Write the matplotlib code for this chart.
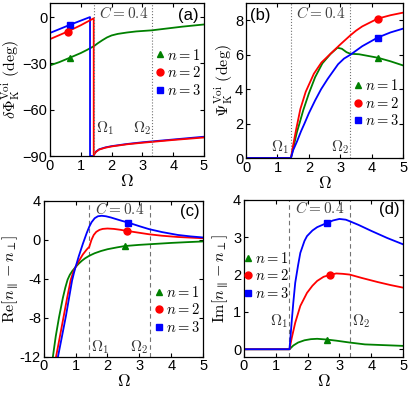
import matplotlib
matplotlib.use('Agg')
import matplotlib.pyplot as plt
from matplotlib.lines import Line2D
import matplotlib.transforms as mtransforms

plt.rcParams['font.family'] = ['Liberation Sans', 'DejaVu Sans']
plt.rcParams['mathtext.fontset'] = 'cm'
plt.rcParams['font.size'] = 10
plt.rcParams['axes.linewidth'] = 0.9
plt.rcParams['xtick.direction'] = 'in'
plt.rcParams['ytick.direction'] = 'in'
plt.rcParams['xtick.top'] = True
plt.rcParams['ytick.right'] = True
plt.rcParams['xtick.major.size'] = 3
plt.rcParams['ytick.major.size'] = 3

# ---------------- data ----------------
OMEGA1 = 1.43
OMEGA2 = 3.32
C_LABEL = r'$C=0.4$'
series_labels = [r'$n=1$', r'$n=2$', r'$n=3$']
colors = ['#008000', '#ff0000', '#0000ff']
markers = ['^', 'o', 's']

# (a) delta Phi_K^Voi (deg)
a_w_n1 = [0, 0.3, 0.65, 1.0, 1.2, 1.43, 1.55, 1.7, 1.85, 2.0, 2.2, 2.5, 2.8, 3.3, 3.8, 4.3, 5.0]
a_v_n1 = [-31.3, -29.2, -26.3, -23.3, -21.3, -18.8, -17.0, -15.0, -13.2, -11.9, -10.9, -10.0, -9.3, -8.6, -7.4, -6.2, -4.8]
a_w_n2 = [0, 0.57, 1.0, 1.42, 1.42, 1.45, 1.5, 1.6, 1.8, 2.0, 2.5, 3.0, 3.5, 4.0, 4.5, 5.0]
a_v_n2 = [-14.3, -9.4, -5.3, -0.8, -89.5, -88.4, -87.2, -85.8, -84.6, -83.8, -82.4, -81.4, -80.5, -79.6, -78.8, -78.0]
a_w_n3 = [0, 0.65, 1.30, 1.30, 1.42, 1.45, 1.5, 1.6, 1.8, 2.0, 2.5, 3.0, 3.5, 4.0, 4.5, 5.0]
a_v_n3 = [-10.3, -5.0, 0.0, -90.0, -90.0, -88.2, -87.0, -85.6, -84.4, -83.6, -82.2, -81.1, -80.2, -79.3, -78.4, -77.5]
a_mark_w = [0.65, 0.57, 0.65]
a_mark_v = [-26.3, -9.4, -5.0]

# (b) Psi_K^Voi (deg)
b_w_n1 = [0, 1.43, 1.5, 1.55, 1.62, 1.7, 1.82, 2.0, 2.2, 2.43, 2.69, 2.91, 3.05, 3.2, 3.32, 3.6, 4.19, 4.6, 5.0]
b_v_n1 = [0, 0, 0.55, 0.95, 1.5, 2.0, 2.77, 3.75, 4.7, 5.5, 6.05, 6.41, 6.35, 6.15, 6.06, 6.03, 5.83, 5.62, 5.38]
b_w_n2 = [0, 1.43, 1.5, 1.6, 1.73, 1.9, 2.16, 2.4, 2.69, 3.0, 3.32, 3.5, 3.7, 4.19, 4.6, 5.0]
b_v_n2 = [0, 0, 0.75, 1.7, 2.85, 3.85, 4.9, 5.55, 6.06, 6.6, 7.13, 7.4, 7.65, 8.1, 8.3, 8.45]
b_w_n3 = [0, 1.43, 1.5, 1.62, 1.75, 1.86, 2.0, 2.2, 2.39, 2.6, 2.93, 3.12, 3.32, 3.7, 4.19, 4.6, 5.0]
b_v_n3 = [0, 0, 0.45, 0.95, 1.55, 2.0, 2.6, 3.35, 4.0, 4.6, 5.45, 5.78, 6.0, 6.5, 7.0, 7.3, 7.52]
b_mark_w = [4.19, 4.19, 4.19]
b_mark_v = [5.83, 8.1, 7.0]

# (c) Re[n_par - n_perp]
c_w_n1 = [0.22, 0.29, 0.38, 0.48, 0.6, 0.68, 0.75, 0.82, 0.9, 1.0, 1.1, 1.2, 1.3, 1.43, 1.6, 1.8, 2.0, 2.3, 2.55, 3.0, 3.35, 4.0, 4.5, 5.0]
c_v_n1 = [-15.5, -12, -9.9, -8, -6, -4.9, -4.1, -3.6, -3.2, -2.8, -2.45, -2.15, -1.9, -1.64, -1.38, -1.15, -0.97, -0.78, -0.64, -0.52, -0.45, -0.32, -0.24, -0.17]
c_w_n2 = [0.32, 0.39, 0.5, 0.62, 0.74, 0.85, 0.93, 1.0, 1.1, 1.23, 1.35, 1.43, 1.5, 1.57, 1.65, 1.75, 1.85, 2.0, 2.2, 2.4, 2.6, 3.0, 3.3, 3.7, 4.2, 5.0]
c_v_n2 = [-15, -12, -10.1, -8, -5.9, -4.1, -3.3, -2.8, -2.2, -1.5, -1.0, -0.72, 0.0, 0.5, 0.82, 1.02, 1.12, 1.16, 1.12, 1.03, 0.92, 0.72, 0.57, 0.42, 0.29, 0.16]
c_w_n3 = [0.38, 0.45, 0.57, 0.7, 0.8, 0.89, 0.95, 1.0, 1.1, 1.23, 1.35, 1.43, 1.5, 1.6, 1.7, 1.82, 1.95, 2.1, 2.25, 2.45, 2.65, 3.0, 3.3, 3.7, 4.2, 4.6, 5.0]
c_v_n3 = [-15, -12, -10, -7.8, -5.9, -4.2, -3.4, -2.8, -1.7, -0.4, 0.7, 1.35, 1.8, 2.22, 2.42, 2.47, 2.42, 2.3, 2.15, 1.95, 1.77, 1.4, 1.1, 0.8, 0.5, 0.35, 0.24]
c_mark_w = [2.55, 2.6, 2.65]
c_mark_v = [-0.64, 0.92, 1.77]
c_yticks = [-12, -8, -4, 0, 4]
c_yticklabels = ['-12', '-8', '-4', '0', '4']

# (d) Im[n_par - n_perp]
d_w_n1 = [0, 1.43, 1.55, 1.7, 1.9, 2.1, 2.3, 2.6, 2.9, 3.32, 3.8, 4.4, 5.0]
d_v_n1 = [0, 0, 0.1, 0.18, 0.24, 0.27, 0.28, 0.26, 0.23, 0.18, 0.13, 0.11, 0.09]
d_w_n2 = [0, 1.43, 1.5, 1.61, 1.77, 1.98, 2.15, 2.3, 2.5, 2.69, 2.9, 3.1, 3.32, 3.7, 4.2, 4.6, 5.0]
d_v_n2 = [0, 0, 0.3, 0.71, 1.16, 1.51, 1.7, 1.83, 1.94, 1.99, 2.03, 2.02, 2.0, 1.91, 1.8, 1.72, 1.65]
d_w_n3 = [0, 1.43, 1.5, 1.55, 1.61, 1.7, 1.77, 1.9, 1.98, 2.15, 2.3, 2.6, 2.8, 3.0, 3.2, 3.32, 3.6, 4.0, 4.5, 5.0]
d_v_n3 = [0, 0, 0.75, 1.25, 1.78, 2.25, 2.58, 2.9, 3.03, 3.18, 3.27, 3.38, 3.45, 3.49, 3.47, 3.43, 3.33, 3.17, 2.98, 2.81]
d_mark_w = [2.6, 2.69, 2.6]
d_mark_v = [0.25, 1.99, 3.38]

# ---------------- figure ----------------
fig = plt.figure(figsize=(4.08, 3.96), dpi=100)
axa = fig.add_axes([0.1225, 0.606, 0.3775, 0.386])
axb = fig.add_axes([0.603, 0.601, 0.385, 0.391])
axc = fig.add_axes([0.107, 0.0997, 0.391, 0.393])
axd = fig.add_axes([0.598, 0.0992, 0.390, 0.396])

LW = 1.3
MS = 5


def draw(ax, ws, vs, mw, mv, order):
    for i in order:
        ax.plot(ws[i], vs[i], color=colors[i], lw=LW, zorder=2 + order.index(i) * 0.1)
        ax.plot([mw[i]], [mv[i]], linestyle='none', marker=markers[i], color=colors[i],
                ms=MS, zorder=3)


def vlines(ax, style, z=1):
    for w in (OMEGA1, OMEGA2):
        ax.axvline(w, color='0.45', lw=0.8, linestyle=style, zorder=z)


def legend(ax, x, y):
    handles = [Line2D([], [], color=colors[i], marker=markers[i], linestyle='none', ms=MS)
               for i in range(3)]
    ax.legend(handles, series_labels, loc='center left', bbox_to_anchor=(x, y),
              frameon=False, handlelength=0.7, handletextpad=0.15, borderpad=0,
              borderaxespad=0, labelspacing=0.18, fontsize=10.5)


def ctext(ax, y):
    tr = mtransforms.blended_transform_factory(ax.transData, ax.transAxes)
    ax.text((OMEGA1 + OMEGA2) / 2, y, C_LABEL, transform=tr, ha='center', va='center',
            fontsize=11, color='0.25')


for ax in (axa, axb, axc, axd):
    ax.set_xlim(0, 5)
    ax.set_xticks([0, 1, 2, 3, 4, 5])
    ax.set_xlabel(r'$\Omega$', fontsize=12.5, labelpad=0)
    ax.tick_params(labelsize=10.5, pad=2)

# (a)
draw(axa, [a_w_n1, a_w_n2, a_w_n3], [a_v_n1, a_v_n2, a_v_n3], a_mark_w, a_mark_v, [0, 2, 1])
vlines(axa, ':', z=5)
axa.set_ylim(-90, 9)
axa.set_yticks([-90, -60, -30, 0])
axa.set_ylabel(r'$\delta\Phi_{\rm K}^{\rm Voi}\ (\rm deg)$', fontsize=11.5, labelpad=0)
ctext(axa, 0.935)
axa.text(0.90, 0.92, '(a)', transform=axa.transAxes, ha='center', va='center', fontsize=12)
axa.text(OMEGA1 + 0.08, -72, r'$\Omega_1$', ha='left', va='center', fontsize=11, color='0.2')
axa.text(OMEGA2 - 0.04, -72, r'$\Omega_2$', ha='right', va='center', fontsize=11, color='0.2')
legend(axa, 0.679, 0.545)

# (b)
draw(axb, [b_w_n1, b_w_n2, b_w_n3], [b_v_n1, b_v_n2, b_v_n3], b_mark_w, b_mark_v, [0, 1, 2])
vlines(axb, ':')
axb.set_ylim(0, 9)
axb.set_yticks([0, 2, 4, 6, 8])
axb.set_ylabel(r'$\Psi_{\rm K}^{\rm Voi}\ (\rm deg)$', fontsize=11.5, labelpad=0)
ctext(axb, 0.935)
axb.text(0.092, 0.92, '(b)', transform=axb.transAxes, ha='center', va='center', fontsize=12)
axb.text(OMEGA1 - 0.04, 0.1, r'$\Omega_1$', ha='right', va='bottom', fontsize=11, color='0.2')
axb.text(OMEGA2 - 0.04, 0.1, r'$\Omega_2$', ha='right', va='bottom', fontsize=11, color='0.2')
legend(axb, 0.678, 0.353)

# (c)
draw(axc, [c_w_n1, c_w_n2, c_w_n3], [c_v_n1, c_v_n2, c_v_n3], c_mark_w, c_mark_v, [0, 1, 2])
vlines(axc, (0, (4, 3)))
axc.set_ylim(-12, 4)
axc.set_yticks(c_yticks)
axc.set_yticklabels(c_yticklabels)
axc.set_ylabel(r'${\rm Re}[n_\parallel-n_\perp]$', fontsize=11.5, labelpad=0)
ctext(axc, 0.948)
axc.text(0.917, 0.935, '(c)', transform=axc.transAxes, ha='center', va='center', fontsize=12)
axc.text(OMEGA1 + 0.05, -11.0, r'$\Omega_1$', ha='left', va='center', fontsize=11, color='0.2')
axc.text(OMEGA2 - 0.04, -11.0, r'$\Omega_2$', ha='right', va='center', fontsize=11, color='0.2')
legend(axc, 0.69, 0.299)

# (d)
draw(axd, [d_w_n1, d_w_n2, d_w_n3], [d_v_n1, d_v_n2, d_v_n3], d_mark_w, d_mark_v, [0, 1, 2])
vlines(axd, (0, (4, 3)))
axd.set_ylim(-0.2, 4)
axd.set_yticks([0, 1, 2, 3, 4])
axd.set_ylabel(r'${\rm Im}[n_\parallel-n_\perp]$', fontsize=11.5, labelpad=2)
ctext(axd, 0.949)
axd.text(0.914, 0.94, '(d)', transform=axd.transAxes, ha='center', va='center', fontsize=12)
axd.text(OMEGA1 - 0.04, 0.76, r'$\Omega_1$', ha='right', va='center', fontsize=11, color='0.2')
axd.text(OMEGA2 + 0.06, 0.76, r'$\Omega_2$', ha='left', va='center', fontsize=11, color='0.2')
legend(axd, -0.007, 0.515)

fig.savefig('out.png', dpi=100)
